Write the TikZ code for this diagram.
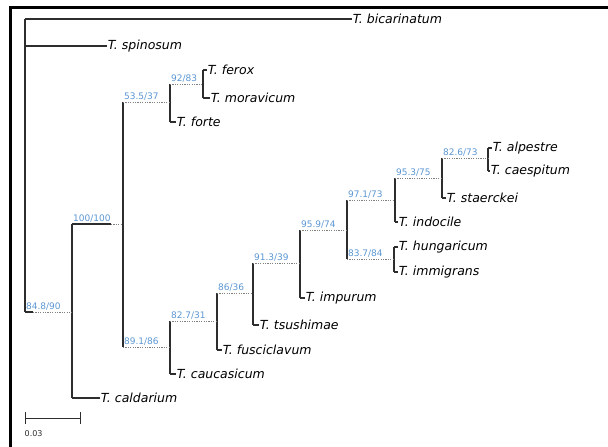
\documentclass[tikz,border=0pt]{standalone}
\usepackage{fontspec}
\setmainfont{DejaVu Sans}
\definecolor{supblue}{RGB}{91,150,210}
\definecolor{branchgray}{RGB}{45,45,45}
\tikzset{
  branch/.style={draw=branchgray, line width=1.1pt},
  dotbranch/.style={draw=gray, line width=0.9pt, dash pattern=on 1.2pt off 1.2pt},
  taxon/.style={anchor=west, inner sep=0.6pt, font=\fontsize{12.5}{14}\selectfont\itshape},
  support/.style={anchor=south west, inner sep=0.4pt, xshift=0.5pt, yshift=1.5pt, text=supblue, font=\fontsize{9}{10}\selectfont},
}

\begin{document}
\begin{tikzpicture}[x=1pt,y=-1pt]
    \useasboundingbox (0,0) rectangle (608,447);

    % Cerceve (sol ve ust kenar)
    \draw[line width=3pt] (10.5,447) -- (10.5,7) -- (608,7);

    % Ic dugumler
    \coordinate (nRoot) at (25,19);
    \coordinate (nA) at (72,312);
    \coordinate (nB) at (123,224);
    \coordinate (nC) at (170,102);
    \coordinate (nD) at (203,84);
    \coordinate (nE) at (170,347);
    \coordinate (nF) at (217,321);
    \coordinate (nG) at (253,293);
    \coordinate (nH) at (300,263);
    \coordinate (nI) at (347,230);
    \coordinate (nJ) at (395,200);
    \coordinate (nK) at (394,259);
    \coordinate (nL) at (442,178);
    \coordinate (nM) at (488,158);

    % Taksonlar
    \node[taxon] (bic) at (352,19) {T. bicarinatum};
    \node[taxon] (spi) at (107,46) {T. spinosum};
    \node[taxon] (fer) at (207,70) {T. ferox};
    \node[taxon] (mor) at (210,98) {T. moravicum};
    \node[taxon] (for) at (176,122) {T. forte};
    \node[taxon] (alp) at (492,148) {T. alpestre};
    \node[taxon] (cae) at (490,171) {T. caespitum};
    \node[taxon] (sta) at (446,198) {T. staerckei};
    \node[taxon] (ind) at (398,222) {T. indocile};
    \node[taxon] (hun) at (398,247) {T. hungaricum};
    \node[taxon] (imm) at (398,272) {T. immigrans};
    \node[taxon] (imp) at (305,298) {T. impurum};
    \node[taxon] (tsu) at (259,325) {T. tsushimae};
    \node[taxon] (fus) at (222,350) {T. fusciclavum};
    \node[taxon] (cau) at (176,374) {T. caucasicum};
    \node[taxon] (cal) at (100,398) {T. caldarium};

    % Dikey cizgiler
    \draw[branch] (nRoot) -- (nRoot|-nA);
    \draw[branch] (nA|-nB) -- (nA|-cal.west);
    \draw[branch] (nB|-nC) -- (nB|-nE);
    \draw[branch] (nC|-nD) -- (nC|-for.west);
    \draw[branch] (nD|-fer.west) -- (nD|-mor.west);
    \draw[branch] (nE|-nF) -- (nE|-cau.west);
    \draw[branch] (nF|-nG) -- (nF|-fus.west);
    \draw[branch] (nG|-nH) -- (nG|-tsu.west);
    \draw[branch] (nH|-nI) -- (nH|-imp.west);
    \draw[branch] (nI|-nJ) -- (nI|-nK);
    \draw[branch] (nJ|-nL) -- (nJ|-ind.west);
    \draw[branch] (nK|-hun.west) -- (nK|-imm.west);
    \draw[branch] (nL|-nM) -- (nL|-sta.west);
    \draw[branch] (nM|-alp.west) -- (nM|-cae.west);

    % Yaprak dallari
    \draw[branch] (nRoot|-bic.west) -- (bic.west);
    \draw[branch] (nRoot|-spi.west) -- (spi.west);
    \draw[branch] (nA|-cal.west) -- (cal.west);
    \draw[branch] (nC|-for.west) -- (for.west);
    \draw[branch] (nD|-fer.west) -- (fer.west);
    \draw[branch] (nD|-mor.west) -- (mor.west);
    \draw[branch] (nE|-cau.west) -- (cau.west);
    \draw[branch] (nF|-fus.west) -- (fus.west);
    \draw[branch] (nG|-tsu.west) -- (tsu.west);
    \draw[branch] (nH|-imp.west) -- (imp.west);
    \draw[branch] (nJ|-ind.west) -- (ind.west);
    \draw[branch] (nK|-hun.west) -- (hun.west);
    \draw[branch] (nK|-imm.west) -- (imm.west);
    \draw[branch] (nL|-sta.west) -- (sta.west);
    \draw[branch] (nM|-alp.west) -- (alp.west);
    \draw[branch] (nM|-cae.west) -- (cae.west);

    % Ic dallar (noktali)
    \draw[branch] (nRoot|-nA) -- ++(8,0) coordinate (splitA);
    \draw[dotbranch] (splitA) -- (nA);
    \draw[branch] (nA|-nB) -- ++(39,0) coordinate (splitB);
    \draw[dotbranch] (splitB) -- (nB);
    \draw[dotbranch] (nB|-nC) -- (nC);
    \draw[dotbranch] (nC|-nD) -- (nD);
    \draw[dotbranch] (nB|-nE) -- (nE);
    \draw[dotbranch] (nE|-nF) -- (nF);
    \draw[dotbranch] (nF|-nG) -- (nG);
    \draw[dotbranch] (nG|-nH) -- (nH);
    \draw[dotbranch] (nH|-nI) -- (nI);
    \draw[dotbranch] (nI|-nJ) -- (nJ);
    \draw[dotbranch] (nI|-nK) -- (nK);
    \draw[dotbranch] (nJ|-nL) -- (nL);
    \draw[dotbranch] (nL|-nM) -- (nM);

    % Destek degerleri
    \node[support] (supA) at (nRoot|-nA) {84.8/90};
    \node[support] (supB) at (nA|-nB) {100/100};
    \node[support] (supC) at (nB|-nC) {53.5/37};
    \node[support] (supD) at (nC|-nD) {92/83};
    \node[support] (supE) at (nB|-nE) {89.1/86};
    \node[support] (supF) at (nE|-nF) {82.7/31};
    \node[support] (supG) at (nF|-nG) {86/36};
    \node[support] (supH) at (nG|-nH) {91.3/39};
    \node[support] (supI) at (nH|-nI) {95.9/74};
    \node[support] (supJ) at (nI|-nJ) {97.1/73};
    \node[support] (supK) at (nI|-nK) {83.7/84};
    \node[support] (supL) at (nJ|-nL) {95.3/75};
    \node[support] (supM) at (nL|-nM) {82.6/73};

    % Olcek cubugu
    \coordinate (barL) at (25,418);
    \coordinate (barR) at (80,418);
    \draw[branch, line width=0.9pt] (barL) -- (barR);
    \draw[branch, line width=0.9pt] ([yshift=6pt]barL) -- ([yshift=-6pt]barL);
    \draw[branch, line width=0.9pt] ([yshift=6pt]barR) -- ([yshift=-6pt]barR);
    \node[anchor=north west, inner sep=0.5pt, text=branchgray, font=\fontsize{8}{9}\selectfont] (barlab) at (24,430) {0.03};
\end{tikzpicture}
\end{document}
